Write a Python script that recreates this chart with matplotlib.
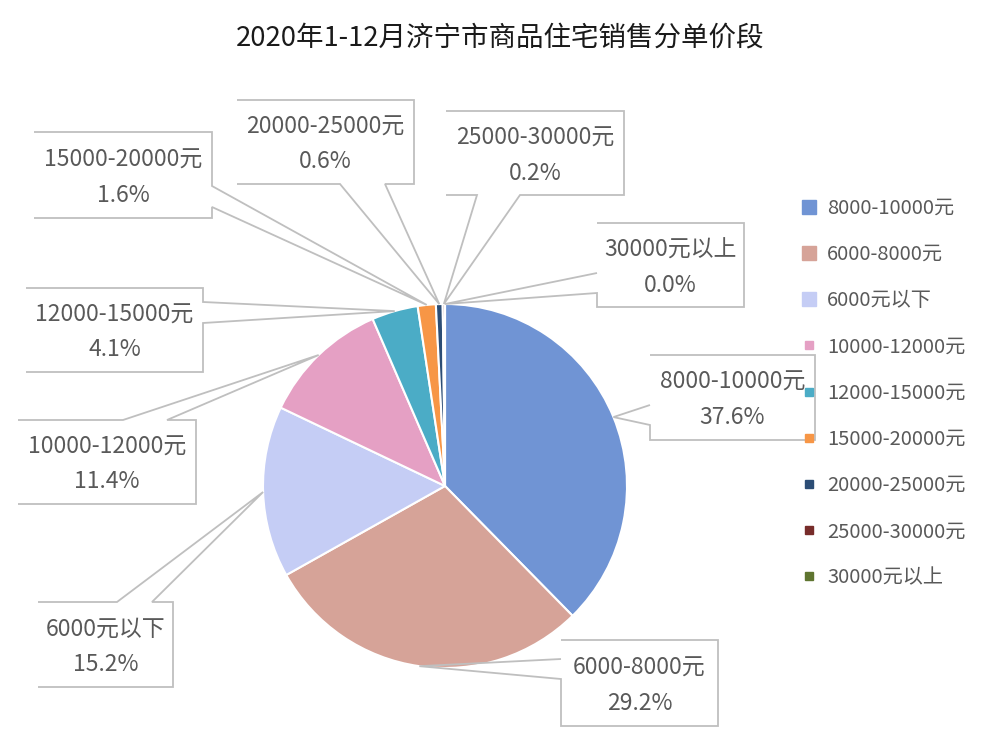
import matplotlib
matplotlib.use("Agg")
import matplotlib.pyplot as plt
from matplotlib.lines import Line2D
from matplotlib.patches import Polygon, Rectangle
import numpy as np

plt.rcParams['font.family'] = ['Noto Sans CJK SC', 'DejaVu Sans']

title = "2020年1-12月济宁市商品住宅销售分单价段"
labels = ["8000-10000元", "6000-8000元", "6000元以下", "10000-12000元", "12000-15000元",
          "15000-20000元", "20000-25000元", "25000-30000元", "30000元以上"]
shares = [37.6, 29.2, 15.2, 11.4, 4.1, 1.6, 0.6, 0.2, 0.0]
colors = ["#7094D4", "#D6A398", "#C5CDF5", "#E5A0C4", "#4BACC6",
          "#F79646", "#2C4D75", "#772C2A", "#5F7530"]

H = 744
cx, cy, r = 445, 486, 182   # pie centre / radius in image pixels (y down)

# callout boxes: (x0, y0, x1, y1), side the pointer leaves from, pointer base span
boxes = [
    ((650, 355, 815, 440), "left", (405, 425)),
    ((561, 640, 718, 726), "left", (659, 679)),
    ((38, 602, 173, 687), "top", (117, 152)),
    ((18, 420, 196, 504), "top", (123, 167)),
    ((26, 288, 203, 372), "right", (302, 323)),
    ((34, 132, 212, 218), "right", (186, 207)),
    ((237, 100, 414, 184), "bottom", (340, 385)),
    ((446, 111, 624, 195), "bottom", (477, 520)),
    ((597, 223, 744, 307), "left", (273, 293)),
]

fig = plt.figure(figsize=(10, 7.44), dpi=100)
ax = fig.add_axes([0, 0, 1, 1])

wedges, _ = ax.pie(shares, colors=colors, startangle=90, counterclock=False,
                   center=(cx, H - cy), radius=r,
                   wedgeprops=dict(edgecolor="white", linewidth=1.5))
ax.set_xlim(0, 1000)
ax.set_ylim(0, H)
ax.set_aspect("equal")
ax.axis("off")


def outline(box, side, base, tip):
    x0, y0, x1, y1 = box
    b0, b1 = base
    pts = [(x0, y0)]
    if side == "top":
        pts += [(b0, y0), tip, (b1, y0)]
    pts += [(x1, y0)]
    if side == "right":
        pts += [(x1, b0), tip, (x1, b1)]
    pts += [(x1, y1)]
    if side == "bottom":
        pts += [(b1, y1), tip, (b0, y1)]
    pts += [(x0, y1)]
    if side == "left":
        pts += [(x0, b1), tip, (x0, b0)]
    pts += [(x0, y0)]
    return [(x, H - y) for x, y in pts]


for w, lab, val, (box, side, base) in zip(wedges, labels, shares, boxes):
    mid = np.deg2rad((w.theta1 + w.theta2) / 2)
    tx = w.center[0] + w.r * np.cos(mid)
    ty = H - (w.center[1] + w.r * np.sin(mid))
    x0, y0, x1, y1 = box
    ax.add_patch(Rectangle((x0, H - y1), x1 - x0, y1 - y0, facecolor="white",
                           edgecolor="none", zorder=3))
    ax.add_patch(Polygon(outline(box, side, base, (tx, ty)), closed=False,
                         fill=False, edgecolor="#BFBFBF", linewidth=1.3, zorder=4))
    mx, my = (x0 + x1) / 2, H - (y0 + y1) / 2
    ax.text(mx, my + 15, lab, ha="center", va="center", fontsize=16.5,
            color="#595959", zorder=5)
    ax.text(mx, my - 20, f"{val:.1f}%", ha="center", va="center", fontsize=16.5,
            color="#595959", zorder=5)

marker_sizes = [9.5, 9.5, 9.5, 6, 6, 6, 6, 6, 6]
handles = [Line2D([], [], marker="s", linestyle="", color=c, markersize=s)
           for c, s in zip(colors, marker_sizes)]
leg = ax.legend(handles, labels, loc="upper left", frameon=False,
                bbox_to_anchor=(801 / 1000, 1 - 198 / H), bbox_transform=fig.transFigure,
                borderpad=0, borderaxespad=0, handlelength=0.75, handletextpad=0.55,
                labelspacing=1.25, fontsize=14.5, labelcolor="#595959")

fig.text(0.5, 1 - 38 / H, title, ha="center", va="center", fontsize=19.8, color="#1a1a1a")

fig.savefig("out.png", dpi=100, facecolor="white")
